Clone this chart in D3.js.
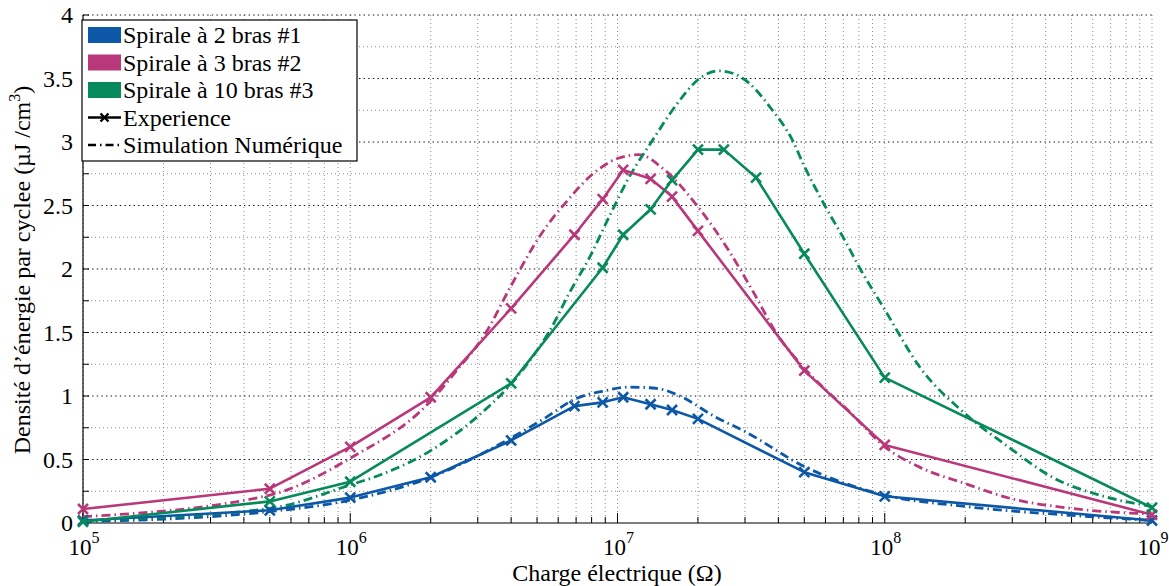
<!DOCTYPE html>
<html><head><meta charset="utf-8">
<script src="https://cdn.jsdelivr.net/npm/d3@7"></script>
<style>
body{margin:0;background:#fff}
text{font-family:"Liberation Serif","Times New Roman",serif;fill:#000}
</style>
</head><body>
<svg id="chart" width="1169" height="586"></svg>
<script>
// ---------- data ----------
const seriesNames = ["Spirale à 2 bras #1", "Spirale à 3 bras #2", "Spirale à 10 bras #3"];
const seriesColors = ["#0D58A6", "#B8387A", "#078A5B"];

const expX_s1 = [1e5, 5e5, 1e6, 2e6, 4e6, 6.9e6, 8.8e6, 1.05e7, 1.33e7, 1.6e7, 2e7, 5e7, 1e8, 1e9];
const expY_s1 = [0.02, 0.10, 0.20, 0.36, 0.65, 0.92, 0.95, 0.99, 0.935, 0.89, 0.82, 0.40, 0.21, 0.02];

const expX_s2 = [1e5, 5e5, 1e6, 2e6, 4e6, 6.9e6, 8.8e6, 1.05e7, 1.33e7, 1.6e7, 2e7, 5e7, 1e8, 1e9];
const expY_s2 = [0.11, 0.27, 0.60, 0.99, 1.69, 2.27, 2.55, 2.78, 2.71, 2.57, 2.30, 1.20, 0.615, 0.065];

const expX_s3 = [1e5, 5e5, 1e6, 4e6, 8.8e6, 1.05e7, 1.33e7, 1.6e7, 2e7, 2.5e7, 3.3e7, 5e7, 1e8, 1e9];
const expY_s3 = [0.01, 0.17, 0.325, 1.10, 2.01, 2.27, 2.47, 2.70, 2.94, 2.94, 2.72, 2.12, 1.145, 0.12];

const simX_s1 = [1e5, 5e5, 1e6, 2e6, 4e6, 5.3e6, 7e6, 8.9e6, 1.11e7, 1.4e7, 1.75e7, 2.3e7, 3e7, 5e7, 1e8, 2e8, 5e8, 1e9];
const simY_s1 = [0.01, 0.09, 0.18, 0.36, 0.67, 0.82, 0.98, 1.04, 1.07, 1.06, 0.99, 0.84, 0.72, 0.445, 0.22, 0.13, 0.06, 0.02];

const simX_s2 = [1e5, 5e5, 1e6, 2e6, 2.5e6, 3.2e6, 4e6, 5.2e6, 6.5e6, 8.1e6, 1e7, 1.2e7, 1.5e7, 2e7, 2.6e7, 3.2e7, 4e7, 5e7, 7.6e7, 1e8, 1.35e8, 2e8, 3e8, 5e8, 1e9];
const simY_s2 = [0.05, 0.22, 0.51, 0.96, 1.20, 1.49, 1.87, 2.28, 2.54, 2.75, 2.87, 2.90, 2.78, 2.49, 2.15, 1.83, 1.47, 1.22, 0.85, 0.60, 0.44, 0.31, 0.19, 0.115, 0.07];

const simX_s3 = [1e5, 5e5, 1e6, 1.3e6, 2e6, 3e6, 3.9e6, 4.7e6, 5.6e6, 6.6e6, 7.9e6, 9.3e6, 1.11e7, 1.33e7, 1.67e7, 2e7, 2.4e7, 2.9e7, 3.8e7, 4.5e7, 5e7, 6e7, 7.2e7, 8e7, 1e8, 1.35e8, 2e8, 2.9e8, 4.2e8, 6.6e8, 1e9];
const simY_s3 = [0.02, 0.115, 0.30, 0.38, 0.57, 0.84, 1.07, 1.28, 1.52, 1.81, 2.10, 2.41, 2.73, 2.99, 3.30, 3.49, 3.56, 3.51, 3.25, 3.02, 2.81, 2.49, 2.20, 2.02, 1.68, 1.23, 0.86, 0.60, 0.365, 0.21, 0.13];

const yTickValues = [0, 0.5, 1, 1.5, 2, 2.5, 3, 3.5, 4];
const yTickLabels = ["0", "0.5", "1", "1.5", "2", "2.5", "3", "3.5", "4"];
const xDecades = [1e5, 1e6, 1e7, 1e8, 1e9];
const xDecadeExponents = ["5", "6", "7", "8", "9"];
const xLabel = "Charge électrique (Ω)";
const yLabelMain = "Densité d’énergie par cyclee (µJ /cm";
const yLabelSup = "3";
const yLabelEnd = ")";
const legendExtra = ["Experience", "Simulation Numérique"];

// ---------- layout ----------
const L = 83, R = 1152, T = 15, B = 523;
const FS = 24, FSS = 16;
const svg = d3.select("#chart");
const x = d3.scaleLog().domain([1e5, 1e9]).range([L, R]);
const y = d3.scaleLinear().domain([0, 4]).range([B, T]);

// minor x ticks
const xMinor = [];
for (let e = 5; e < 9; e++) for (let k = 2; k <= 9; k++) xMinor.push(k * Math.pow(10, e));
const xAll = xDecades.concat(xMinor);

// grid
const g = svg.append("g");
g.selectAll("line.vg").data(xAll).enter().append("line")
  .attr("x1", d => x(d)).attr("x2", d => x(d)).attr("y1", T).attr("y2", B)
  .attr("stroke", "#8a8a8a").attr("stroke-width", 1).attr("stroke-dasharray", "1,3");
const yMinor = d3.range(0.25, 4, 0.5);
g.selectAll("line.hgm").data(yMinor).enter().append("line")
  .attr("x1", L).attr("x2", R).attr("y1", d => y(d)).attr("y2", d => y(d))
  .attr("stroke", "#8a8a8a").attr("stroke-width", 1).attr("stroke-dasharray", "1,3");
g.selectAll("line.hg").data(yTickValues.slice(1)).enter().append("line")
  .attr("x1", L).attr("x2", R).attr("y1", d => y(d)).attr("y2", d => y(d))
  .attr("stroke", "#111").attr("stroke-width", 1.2).attr("stroke-dasharray", "1.4,3.2");

// axes lines
svg.append("line").attr("x1", L).attr("x2", L).attr("y1", T).attr("y2", B).attr("stroke", "#000").attr("stroke-width", 1.2);
svg.append("line").attr("x1", L).attr("x2", R).attr("y1", B).attr("y2", B).attr("stroke", "#000").attr("stroke-width", 1.2);

// y ticks
const yTicksAll = d3.range(0, 4.01, 0.25);
svg.selectAll("line.yt").data(yTicksAll).enter().append("line")
  .attr("x1", L).attr("x2", L + 6).attr("y1", d => y(d)).attr("y2", d => y(d))
  .attr("stroke", "#000").attr("stroke-width", 1);
svg.selectAll("text.yl").data(yTickValues).enter().append("text")
  .attr("x", L - 10).attr("y", d => y(d) + 8).attr("text-anchor", "end")
  .attr("font-size", FS).text((d, i) => yTickLabels[i]);

// x ticks
svg.selectAll("line.xtM").data(xDecades).enter().append("line")
  .attr("x1", d => x(d)).attr("x2", d => x(d)).attr("y1", B).attr("y2", B - 10)
  .attr("stroke", "#000").attr("stroke-width", 1);
svg.selectAll("line.xtm").data(xMinor).enter().append("line")
  .attr("x1", d => x(d)).attr("x2", d => x(d)).attr("y1", B).attr("y2", B - 6)
  .attr("stroke", "#000").attr("stroke-width", 1);
xDecades.forEach((d, i) => {
  const t = svg.append("text").attr("x", x(d) + 1).attr("y", B + 32).attr("text-anchor", "middle").attr("font-size", 23);
  t.append("tspan").text("10");
  t.append("tspan").attr("dy", -12).attr("font-size", FSS).text(xDecadeExponents[i]);
});

// axis titles
svg.append("text").attr("x", 617).attr("y", 581).attr("text-anchor", "middle")
  .attr("font-size", FS).text(xLabel);
const yl = svg.append("text").attr("transform", "translate(30,270) rotate(-90)")
  .attr("text-anchor", "middle").attr("font-size", FS);
yl.append("tspan").text(yLabelMain);
yl.append("tspan").attr("dy", -10).attr("font-size", FSS).text(yLabelSup);
yl.append("tspan").attr("dy", 10).text(yLabelEnd);

// series
const expSets = [[expX_s1, expY_s1], [expX_s2, expY_s2], [expX_s3, expY_s3]];
const simSets = [[simX_s1, simY_s1], [simX_s2, simY_s2], [simX_s3, simY_s3]];
const lineGen = d3.line().x(d => x(d[0])).y(d => y(d[1]));
const simGen = d3.line().x(d => x(d[0])).y(d => y(d[1])).curve(d3.curveMonotoneX);

function cross(sel, cx, cy, color, s, w) {
  sel.append("path").attr("d", `M${cx - s},${cy - s}L${cx + s},${cy + s}M${cx - s},${cy + s}L${cx + s},${cy - s}`)
    .attr("stroke", color).attr("stroke-width", w).attr("fill", "none");
}

simSets.forEach((s, i) => {
  const pts = s[0].map((v, j) => [v, s[1][j]]);
  svg.append("path").datum(pts).attr("d", simGen).attr("fill", "none")
    .attr("stroke", seriesColors[i]).attr("stroke-width", 2.8)
    .attr("stroke-dasharray", "9,4,1.5,4");
});
expSets.forEach((s, i) => {
  const pts = s[0].map((v, j) => [v, s[1][j]]);
  svg.append("path").datum(pts).attr("d", lineGen).attr("fill", "none")
    .attr("stroke", seriesColors[i]).attr("stroke-width", 2.6).attr("stroke-linejoin", "round");
  const mg = svg.append("g");
  pts.forEach(p => cross(mg, x(p[0]), y(p[1]), seriesColors[i], 5, 2.6));
});

// legend
const lg = svg.append("g");
lg.append("rect").attr("x", 82).attr("y", 20).attr("width", 275).attr("height", 141)
  .attr("fill", "#fff").attr("stroke", "#000").attr("stroke-width", 1.2);
const rowY = [35, 62.5, 90, 117.5, 145];
seriesNames.forEach((n, i) => {
  lg.append("rect").attr("x", 88).attr("y", rowY[i] - 8).attr("width", 33).attr("height", 16).attr("fill", seriesColors[i]);
  lg.append("text").attr("x", 123).attr("y", rowY[i] + 8).attr("font-size", FS).text(n);
});
lg.append("line").attr("x1", 88).attr("x2", 121).attr("y1", rowY[3]).attr("y2", rowY[3]).attr("stroke", "#000").attr("stroke-width", 2.4);
cross(lg, 104.5, rowY[3], "#000", 4, 2.4);
lg.append("text").attr("x", 123).attr("y", rowY[3] + 8).attr("font-size", FS).text(legendExtra[0]);
lg.append("line").attr("x1", 88).attr("x2", 121).attr("y1", rowY[4]).attr("y2", rowY[4]).attr("stroke", "#000").attr("stroke-width", 2.4).attr("stroke-dasharray", "8,4,1.5,4");
lg.append("text").attr("x", 123).attr("y", rowY[4] + 8).attr("font-size", FS).text(legendExtra[1]);
</script>
</body></html>
